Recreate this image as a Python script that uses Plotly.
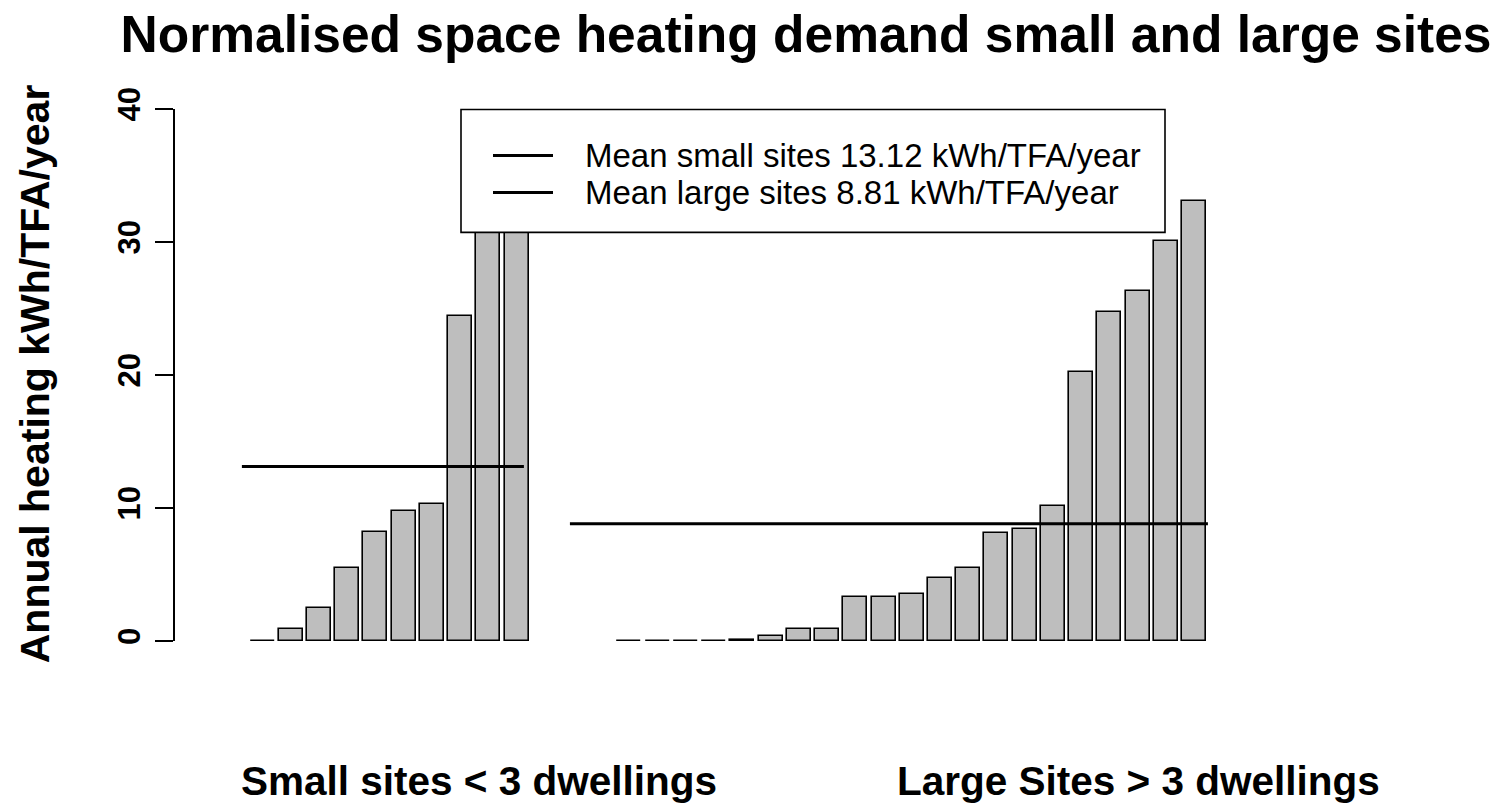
import plotly.graph_objects as go

# ---- data ----
small_sites = [0.0, 0.9, 2.5, 5.5, 8.2, 9.8, 10.3, 24.4, 33.4, 36.2]
large_sites = [0.0, 0.0, 0.0, 0.0, 0.1, 0.4, 0.93, 0.93, 3.3, 3.3, 3.56, 4.7,
               5.5, 8.1, 8.4, 10.15, 20.2, 24.7, 26.35, 30.1, 33.1]
gap_bars = 3
mean_small = 13.12
mean_large = 8.81
y_ticks = [0, 10, 20, 30, 40]
title_text = "Normalised space heating demand small and large sites"
y_title = "Annual heating kWh/TFA/year"
group_labels = ["Small sites < 3 dwellings", "Large Sites > 3 dwellings"]
legend_labels = [f"Mean small sites {mean_small:.2f} kWh/TFA/year",
                 f"Mean large sites {mean_large:.2f} kWh/TFA/year"]

# ---- layout geometry (pixels, page coordinates) ----
W, H = 1502, 806
L, R_ = 175, 1243
T, B = 108.5, 641
PW, PH = R_ - L, B - T
FONT = "Arial, Liberation Sans, sans-serif"

def px(xp):
    return (xp - L) / PW

def py(yp):
    return (B - yp) / PH

n_s, n_l = len(small_sites), len(large_sites)
x_small = list(range(n_s))
x_large = [n_s + gap_bars + i for i in range(n_l)]

fig = go.Figure()
fig.add_trace(go.Bar(x=x_small + x_large, y=small_sites + large_sites, width=0.85,
                     marker=dict(color="#BEBEBE", line=dict(color="black", width=1.6)),
                     showlegend=False, hoverinfo="y"))
# mean lines
fig.add_trace(go.Scatter(x=[x_small[0] - 0.73, x_small[-1] + 0.26], y=[mean_small, mean_small],
                         mode="lines", line=dict(color="black", width=3), showlegend=False))
fig.add_trace(go.Scatter(x=[x_large[0] - 2.11, x_large[-1] + 0.49], y=[mean_large, mean_large],
                         mode="lines", line=dict(color="black", width=3), showlegend=False))

shapes = [
    dict(type="rect", xref="paper", yref="paper", x0=px(461), x1=px(1165), y0=py(232), y1=py(109),
         fillcolor="white", line=dict(color="black", width=1.6), layer="above"),
    dict(type="line", xref="paper", yref="paper", x0=px(493), x1=px(553), y0=py(155), y1=py(155),
         line=dict(color="black", width=3), layer="above"),
    dict(type="line", xref="paper", yref="paper", x0=px(493), x1=px(553), y0=py(192), y1=py(192),
         line=dict(color="black", width=3), layer="above"),
]
annotations = [
    dict(text=legend_labels[0], xref="paper", yref="paper", x=px(583), y=py(155),
         xanchor="left", yanchor="middle", showarrow=False,
         font=dict(family=FONT, size=33, color="black")),
    dict(text=legend_labels[1], xref="paper", yref="paper", x=px(583), y=py(192),
         xanchor="left", yanchor="middle", showarrow=False,
         font=dict(family=FONT, size=33, color="black")),
    dict(text="<b>" + group_labels[0] + "</b>", xref="paper", yref="paper", x=px(479), y=py(781),
         xanchor="center", yanchor="middle", showarrow=False,
         font=dict(family=FONT, size=40.5, color="black")),
    dict(text="<b>" + group_labels[1] + "</b>", xref="paper", yref="paper", x=px(1138), y=py(781),
         xanchor="center", yanchor="middle", showarrow=False,
         font=dict(family=FONT, size=40.5, color="black")),
    dict(text="<b>" + y_title + "</b>", xref="paper", yref="paper", x=px(35), y=py(374),
         xanchor="center", yanchor="middle", textangle=-90, showarrow=False,
         font=dict(family=FONT, size=41, color="black")),
]

fig.update_layout(
    width=W, height=H,
    margin=dict(l=L, r=W - R_, t=T, b=H - B, pad=0),
    paper_bgcolor="white", plot_bgcolor="white",
    title=dict(text="<b>" + title_text + "</b>", x=806 / W, xanchor="center",
               y=1 - 34 / H, yanchor="middle",
               font=dict(family=FONT, size=51.5, color="black")),
    xaxis=dict(range=[-3.0995, 34.733], visible=False),
    yaxis=dict(range=[0, 40], tickvals=y_ticks, ticktext=[f"<b>{v}</b>" for v in y_ticks],
               showgrid=False, zeroline=False, showline=True, linecolor="black", linewidth=1.6,
               ticks="outside", ticklen=18, tickwidth=1.6, tickcolor="black", tickangle=-90,
               ticklabelstandoff=3,
               tickfont=dict(family=FONT, size=31, color="black")),
    shapes=shapes, annotations=annotations, bargap=0,
)
fig.write_html("out.html", config={"displayModeBar": False},
               post_script="document.body.style.margin='0';document.body.style.overflow='hidden';")
